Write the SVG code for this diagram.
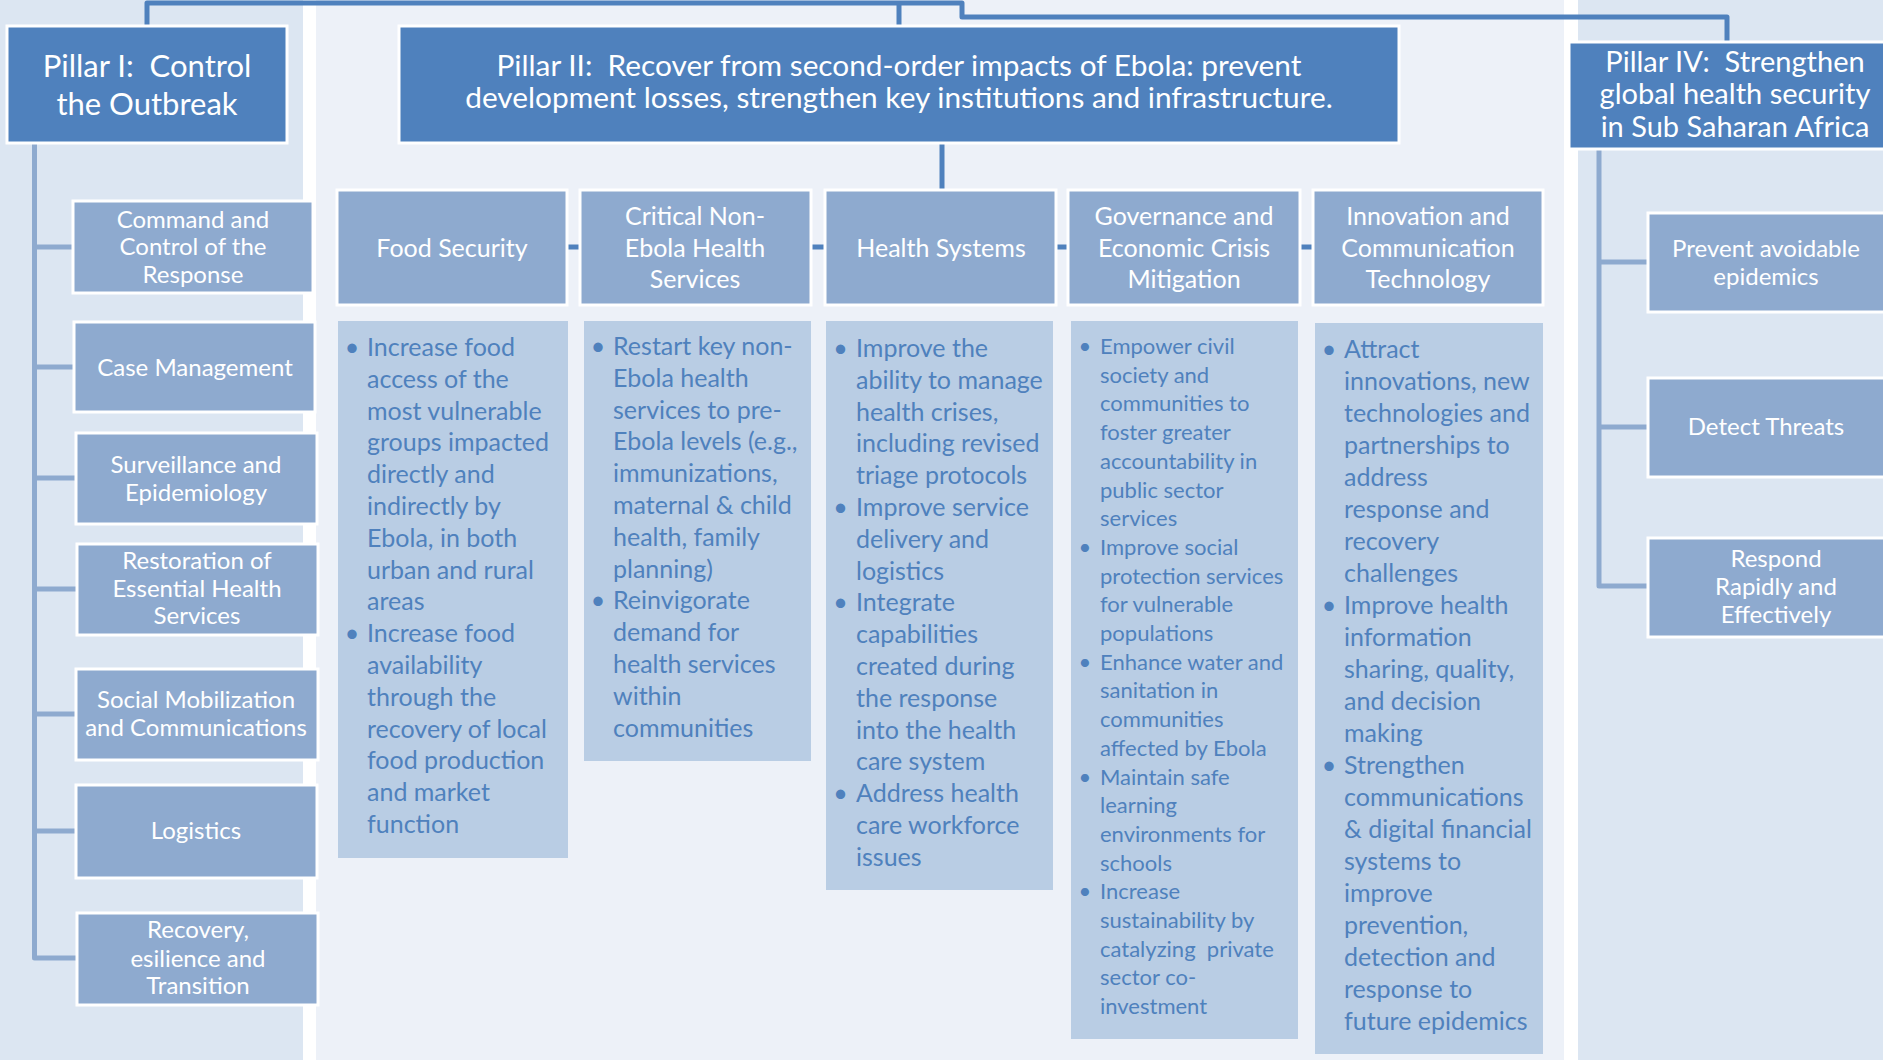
<svg xmlns="http://www.w3.org/2000/svg" width="1883" height="1060" viewBox="0 0 1883 1060">
<style>
.bg{fill:#dce6f2}
.bgm{fill:#edf1f8}
.pil{fill:#4f81bd;stroke:#fff;stroke-width:3}
.sub{fill:#8eaacf;stroke:#fff;stroke-width:3}
.bul{fill:#b9cde4}
.t{font-family:Lato,"Open Sans","Liberation Sans",sans-serif;fill:#fff;text-anchor:middle}
.tp{font-size:31px}
.t2{font-size:29.8px}
.t4{font-size:29px}
.ts{font-size:24px}
.th{font-size:25px}
.b{font-family:Lato,"Open Sans","Liberation Sans",sans-serif;fill:#4f81bd;font-size:25px}
.bs{font-size:22px}
.d{text-anchor:middle}
.c1{stroke:#4f81bd;stroke-width:5;fill:none;stroke-linejoin:round}
.c2{stroke:#8eaacf;stroke-width:5;fill:none;stroke-linejoin:round}
</style>
<rect x="0" y="0" width="1883" height="1060" fill="#fff"/>
<rect class="bg" x="0" y="0" width="303" height="1060"/>
<rect class="bgm" x="316" y="0" width="1248" height="1060"/>
<rect class="bg" x="1578" y="0" width="305" height="1060"/>

<g id="connectors">
<polyline class="c1" points="147,26 147,3 962,3 962,17 1727,17 1727,42"/>
<line class="c1" x1="899" y1="3" x2="899" y2="26"/>
<line class="c1" x1="942" y1="143" x2="942" y2="190"/>
<line class="c1" x1="567" y1="247" x2="580" y2="247"/>
<line class="c1" x1="811" y1="247" x2="825" y2="247"/>
<line class="c1" x1="1056" y1="247" x2="1068" y2="247"/>
<line class="c1" x1="1300" y1="247" x2="1313" y2="247"/>
<polyline class="c2" points="34.5,144 34.5,958 77,958"/>
<line class="c2" x1="34.5" y1="247" x2="73" y2="247"/>
<line class="c2" x1="34.5" y1="367" x2="74" y2="367"/>
<line class="c2" x1="34.5" y1="478" x2="76" y2="478"/>
<line class="c2" x1="34.5" y1="589" x2="77" y2="589"/>
<line class="c2" x1="34.5" y1="714" x2="76" y2="714"/>
<line class="c2" x1="34.5" y1="831" x2="76" y2="831"/>
<polyline class="c2" points="1599,150 1599,586 1648,586"/>
<line class="c2" x1="1599" y1="262" x2="1648" y2="262"/>
<line class="c2" x1="1599" y1="427" x2="1648" y2="427"/>
</g>

<g id="pillar1">
<rect class="pil" x="7" y="26" width="280" height="117"/>
<text class="t tp"><tspan x="147" y="77">Pillar I:&#160; Control</tspan><tspan x="147" y="115">the Outbreak</tspan></text>
</g>
<g id="pillar2">
<rect class="pil" x="399" y="26" width="1000" height="117"/>
<text class="t t2"><tspan x="899" y="76">Pillar II:&#160; Recover from second-order impacts of Ebola: prevent</tspan><tspan x="899" y="108">development losses, strengthen key institutions and infrastructure.</tspan></text>
</g>
<g id="pillar4">
<rect class="pil" x="1569" y="42" width="330" height="107"/>
<text class="t t4"><tspan x="1735" y="72">Pillar IV:&#160; Strengthen</tspan><tspan x="1735" y="104">global health security</tspan><tspan x="1735" y="137">in Sub Saharan Africa</tspan></text>
</g>

<g id="command">
<rect class="sub" x="73" y="201" width="240" height="92"/>
<text class="t ts"><tspan x="193" y="228">Command and</tspan><tspan x="193" y="255">Control of the</tspan><tspan x="193" y="283">Response</tspan></text>
</g>
<g id="case">
<rect class="sub" x="74" y="322" width="241" height="90"/>
<text class="t ts"><tspan x="195" y="376">Case Management</tspan></text>
</g>
<g id="surveillance">
<rect class="sub" x="76" y="433" width="241" height="91"/>
<text class="t ts"><tspan x="196" y="473">Surveillance and</tspan><tspan x="196" y="501">Epidemiology</tspan></text>
</g>
<g id="restoration">
<rect class="sub" x="77" y="544" width="241" height="91"/>
<text class="t ts"><tspan x="197" y="569">Restoration of</tspan><tspan x="197" y="597">Essential Health</tspan><tspan x="197" y="624">Services</tspan></text>
</g>
<g id="social">
<rect class="sub" x="76" y="669" width="242" height="91"/>
<text class="t ts"><tspan x="196" y="708">Social Mobilization</tspan><tspan x="196" y="736">and Communications</tspan></text>
</g>
<g id="logistics">
<rect class="sub" x="76" y="785" width="241" height="93"/>
<text class="t ts"><tspan x="196" y="839">Logistics</tspan></text>
</g>
<g id="recovery">
<rect class="sub" x="77" y="913" width="241" height="92"/>
<text class="t ts"><tspan x="198" y="938">Recovery,</tspan><tspan x="198" y="967">esilience and</tspan><tspan x="198" y="994">Transition</tspan></text>
</g>

<g id="food">
<rect class="sub" x="337" y="190" width="230" height="115"/>
<text class="t th"><tspan x="452" y="257">Food Security</tspan></text>
</g>
<g id="critical">
<rect class="sub" x="580" y="190" width="231" height="115"/>
<text class="t th"><tspan x="695" y="225">Critical Non-</tspan><tspan x="695" y="257">Ebola Health</tspan><tspan x="695" y="288">Services</tspan></text>
</g>
<g id="health">
<rect class="sub" x="825" y="190" width="231" height="115"/>
<text class="t th"><tspan x="941" y="257">Health Systems</tspan></text>
</g>
<g id="governance">
<rect class="sub" x="1068" y="190" width="232" height="115"/>
<text class="t th"><tspan x="1184" y="225">Governance and</tspan><tspan x="1184" y="257">Economic Crisis</tspan><tspan x="1184" y="288">Mitigation</tspan></text>
</g>
<g id="innovation">
<rect class="sub" x="1313" y="190" width="230" height="115"/>
<text class="t th"><tspan x="1428" y="225">Innovation and</tspan><tspan x="1428" y="257">Communication</tspan><tspan x="1428" y="288">Technology</tspan></text>
</g>

<g id="prevent">
<rect class="sub" x="1648" y="213" width="250" height="99"/>
<text class="t ts"><tspan x="1766" y="257">Prevent avoidable</tspan><tspan x="1766" y="285">epidemics</tspan></text>
</g>
<g id="detect">
<rect class="sub" x="1648" y="378" width="250" height="99"/>
<text class="t ts"><tspan x="1766" y="435">Detect Threats</tspan></text>
</g>
<g id="respond">
<rect class="sub" x="1648" y="538" width="250" height="99"/>
<text class="t ts"><tspan x="1776" y="567">Respond</tspan><tspan x="1776" y="595">Rapidly and</tspan><tspan x="1776" y="623">Effectively</tspan></text>
</g>

<g id="food-bullets">
<rect class="bul" x="338" y="321" width="230" height="537"/>
<text class="b d" x="352" y="356">•</text>
<text class="b d" x="352" y="642.2">•</text>
<text class="b"><tspan x="367" y="356">Increase food</tspan><tspan x="367" dy="31.8">access of the</tspan><tspan x="367" dy="31.8">most vulnerable</tspan><tspan x="367" dy="31.8">groups impacted</tspan><tspan x="367" dy="31.8">directly and</tspan><tspan x="367" dy="31.8">indirectly by</tspan><tspan x="367" dy="31.8">Ebola, in both</tspan><tspan x="367" dy="31.8">urban and rural</tspan><tspan x="367" dy="31.8">areas</tspan><tspan x="367" dy="31.8">Increase food</tspan><tspan x="367" dy="31.8">availability</tspan><tspan x="367" dy="31.8">through the</tspan><tspan x="367" dy="31.8">recovery of local</tspan><tspan x="367" dy="31.8">food production</tspan><tspan x="367" dy="31.8">and market</tspan><tspan x="367" dy="31.8">function</tspan></text>
</g>
<g id="critical-bullets">
<rect class="bul" x="584" y="321" width="227" height="440"/>
<text class="b d" x="598" y="355">•</text>
<text class="b d" x="598" y="609.4">•</text>
<text class="b"><tspan x="613" y="355">Restart key non-</tspan><tspan x="613" dy="31.8">Ebola health</tspan><tspan x="613" dy="31.8">services to pre-</tspan><tspan x="613" dy="31.8">Ebola levels (e.g.,</tspan><tspan x="613" dy="31.8">immunizations,</tspan><tspan x="613" dy="31.8">maternal &amp; child</tspan><tspan x="613" dy="31.8">health, family</tspan><tspan x="613" dy="31.8">planning)</tspan><tspan x="613" dy="31.8">Reinvigorate</tspan><tspan x="613" dy="31.8">demand for</tspan><tspan x="613" dy="31.8">health services</tspan><tspan x="613" dy="31.8">within</tspan><tspan x="613" dy="31.8">communities</tspan></text>
</g>
<g id="health-bullets">
<rect class="bul" x="826" y="321" width="227" height="569"/>
<text class="b d" x="840.5" y="357">•</text>
<text class="b d" x="840.5" y="516">•</text>
<text class="b d" x="840.5" y="611.4">•</text>
<text class="b d" x="840.5" y="802.2">•</text>
<text class="b"><tspan x="856" y="357">Improve the</tspan><tspan x="856" dy="31.8">ability to manage</tspan><tspan x="856" dy="31.8">health crises,</tspan><tspan x="856" dy="31.8">including revised</tspan><tspan x="856" dy="31.8">triage protocols</tspan><tspan x="856" dy="31.8">Improve service</tspan><tspan x="856" dy="31.8">delivery and</tspan><tspan x="856" dy="31.8">logistics</tspan><tspan x="856" dy="31.8">Integrate</tspan><tspan x="856" dy="31.8">capabilities</tspan><tspan x="856" dy="31.8">created during</tspan><tspan x="856" dy="31.8">the response</tspan><tspan x="856" dy="31.8">into the health</tspan><tspan x="856" dy="31.8">care system</tspan><tspan x="856" dy="31.8">Address health</tspan><tspan x="856" dy="31.8">care workforce</tspan><tspan x="856" dy="31.8">issues</tspan></text>
</g>
<g id="governance-bullets">
<rect class="bul" x="1071" y="321" width="227" height="718"/>
<text class="b bs d" x="1085" y="354">•</text>
<text class="b bs d" x="1085" y="554.9">•</text>
<text class="b bs d" x="1085" y="669.7">•</text>
<text class="b bs d" x="1085" y="784.5">•</text>
<text class="b bs d" x="1085" y="899.3">•</text>
<text class="b bs" xml:space="preserve"><tspan x="1100" y="354">Empower civil</tspan><tspan x="1100" dy="28.7">society and</tspan><tspan x="1100" dy="28.7">communities to</tspan><tspan x="1100" dy="28.7">foster greater</tspan><tspan x="1100" dy="28.7">accountability in</tspan><tspan x="1100" dy="28.7">public sector</tspan><tspan x="1100" dy="28.7">services</tspan><tspan x="1100" dy="28.7">Improve social</tspan><tspan x="1100" dy="28.7">protection services</tspan><tspan x="1100" dy="28.7">for vulnerable</tspan><tspan x="1100" dy="28.7">populations</tspan><tspan x="1100" dy="28.7">Enhance water and</tspan><tspan x="1100" dy="28.7">sanitation in</tspan><tspan x="1100" dy="28.7">communities</tspan><tspan x="1100" dy="28.7">affected by Ebola</tspan><tspan x="1100" dy="28.7">Maintain safe</tspan><tspan x="1100" dy="28.7">learning</tspan><tspan x="1100" dy="28.7">environments for</tspan><tspan x="1100" dy="28.7">schools</tspan><tspan x="1100" dy="28.7">Increase</tspan><tspan x="1100" dy="28.7">sustainability by</tspan><tspan x="1100" dy="28.7">catalyzing  private</tspan><tspan x="1100" dy="28.7">sector co-</tspan><tspan x="1100" dy="28.7">investment</tspan></text>
</g>
<g id="innovation-bullets">
<rect class="bul" x="1315" y="323" width="228" height="731"/>
<text class="b d" x="1329" y="358">•</text>
<text class="b d" x="1329" y="614">•</text>
<text class="b d" x="1329" y="774">•</text>
<text class="b"><tspan x="1344" y="358">Attract</tspan><tspan x="1344" dy="32">innovations, new</tspan><tspan x="1344" dy="32">technologies and</tspan><tspan x="1344" dy="32">partnerships to</tspan><tspan x="1344" dy="32">address</tspan><tspan x="1344" dy="32">response and</tspan><tspan x="1344" dy="32">recovery</tspan><tspan x="1344" dy="32">challenges</tspan><tspan x="1344" dy="32">Improve health</tspan><tspan x="1344" dy="32">information</tspan><tspan x="1344" dy="32">sharing, quality,</tspan><tspan x="1344" dy="32">and decision</tspan><tspan x="1344" dy="32">making</tspan><tspan x="1344" dy="32">Strengthen</tspan><tspan x="1344" dy="32">communications</tspan><tspan x="1344" dy="32">&amp; digital financial</tspan><tspan x="1344" dy="32">systems to</tspan><tspan x="1344" dy="32">improve</tspan><tspan x="1344" dy="32">prevention,</tspan><tspan x="1344" dy="32">detection and</tspan><tspan x="1344" dy="32">response to</tspan><tspan x="1344" dy="32">future epidemics</tspan></text>
</g>
</svg>
